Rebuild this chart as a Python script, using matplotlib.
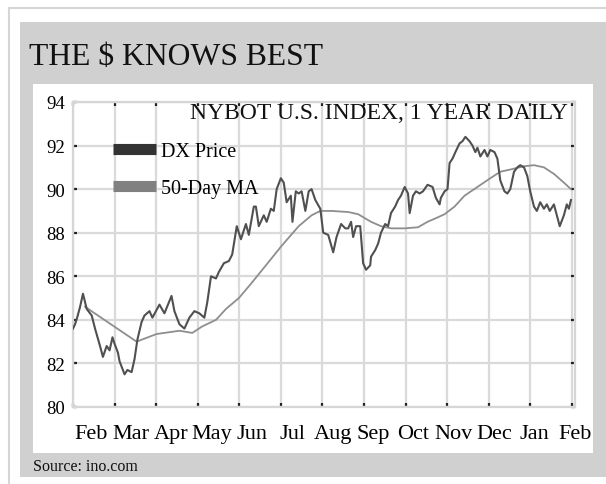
import matplotlib
matplotlib.use("Agg")
import matplotlib.pyplot as plt
from matplotlib.patches import Rectangle
from matplotlib.lines import Line2D

plt.rcParams['font.family'] = ['Liberation Serif', 'DejaVu Serif']

# month labels along the bottom axis (gridlines at each month start)
months = ['Feb', 'Mar', 'Apr', 'May', 'Jun', 'Jul', 'Aug',
          'Sep', 'Oct', 'Nov', 'Dec', 'Jan', 'Feb']
y_ticks = [80, 82, 84, 86, 88, 90, 92, 94]

# DX daily close, time in months from the first gridline
price_t = [0.00, 0.05, 0.10, 0.17, 0.24, 0.33, 0.45, 0.53, 0.65, 0.72, 0.81,
           0.88, 0.95, 1.00, 1.08, 1.12, 1.24, 1.31, 1.41, 1.48, 1.55, 1.65,
           1.72, 1.84, 1.91, 2.08, 2.20, 2.37, 2.44, 2.56, 2.68, 2.80, 2.92,
           3.04, 3.16, 3.23, 3.32, 3.44, 3.51, 3.63, 3.75, 3.83, 3.94, 4.04,
           4.16, 4.23, 4.35, 4.40, 4.47, 4.59, 4.66, 4.76, 4.83, 4.90, 5.00,
           5.07, 5.14, 5.24, 5.28, 5.36, 5.43, 5.50, 5.59, 5.67, 5.74, 5.83,
           5.95, 6.02, 6.14, 6.26, 6.34, 6.45, 6.55, 6.62, 6.69, 6.74, 6.81,
           6.91, 6.98, 7.05, 7.15, 7.17, 7.27, 7.34, 7.41, 7.51, 7.58, 7.65,
           7.75, 7.82, 7.89, 7.98, 8.06, 8.10, 8.18, 8.25, 8.34, 8.42, 8.53,
           8.65, 8.73, 8.82, 8.85, 8.94, 9.01, 9.06, 9.13, 9.20, 9.30, 9.37,
           9.44, 9.54, 9.61, 9.68, 9.73, 9.80, 9.90, 9.97, 10.04, 10.14,
           10.21, 10.28, 10.38, 10.45, 10.52, 10.61, 10.69, 10.76, 10.85,
           10.93, 11.00, 11.09, 11.16, 11.24, 11.33, 11.40, 11.47, 11.57,
           11.64, 11.71, 11.81, 11.88, 11.93, 11.98]
price_v = [83.6, 83.8, 84.1, 84.6, 85.2, 84.5, 84.2, 83.6, 82.8, 82.3, 82.8,
           82.6, 83.2, 82.9, 82.5, 82.1, 81.5, 81.7, 81.6, 82.2, 83.1, 83.9,
           84.2, 84.4, 84.1, 84.7, 84.3, 85.1, 84.4, 83.8, 83.6, 84.1, 84.4,
           84.3, 84.1, 84.8, 86.0, 85.9, 86.2, 86.6, 86.7, 87.0, 88.3, 87.7,
           88.4, 87.9, 89.2, 89.2, 88.3, 88.8, 88.5, 89.1, 89.0, 90.0, 90.5,
           90.3, 89.4, 89.7, 88.5, 89.9, 89.8, 89.9, 89.0, 89.9, 90.0, 89.5,
           89.1, 88.0, 87.9, 87.1, 87.8, 88.4, 88.2, 88.2, 88.5, 87.8, 88.3,
           88.3, 86.6, 86.3, 86.5, 86.9, 87.2, 87.5, 88.0, 88.4, 88.3, 88.9,
           89.2, 89.5, 89.7, 90.1, 89.8, 88.9, 89.7, 89.9, 89.8, 89.9, 90.2,
           90.1, 89.6, 89.3, 89.6, 89.9, 90.0, 91.2, 91.4, 91.7, 92.1, 92.2,
           92.4, 92.2, 92.0, 91.7, 91.9, 91.5, 91.8, 91.5, 91.8, 91.7,
           91.4, 90.4, 89.9, 89.8, 90.0, 90.8, 91.0, 91.1, 91.0,
           90.6, 89.9, 89.2, 89.0, 89.4, 89.1, 89.3, 89.0, 89.3,
           88.8, 88.3, 88.8, 89.3, 89.1, 89.5]

# 50-day moving average
ma_t = [0.29, 1.53, 2.01, 2.56, 2.87, 3.11, 3.44, 3.68, 3.99, 4.30, 4.64,
        5.02, 5.43, 5.74, 5.95, 6.22, 6.62, 6.86, 7.17, 7.41, 7.65, 7.98,
        8.30, 8.53, 8.77, 8.94, 9.18, 9.42, 9.73, 10.04, 10.28, 10.52, 10.85,
        11.09, 11.33, 11.57, 11.81, 11.98]
ma_v = [84.6, 83.0, 83.35, 83.5, 83.4, 83.7, 84.0, 84.5, 85.0, 85.7, 86.5,
        87.4, 88.3, 88.8, 89.0, 89.0, 88.95, 88.85, 88.5, 88.3, 88.2, 88.2,
        88.25, 88.5, 88.7, 88.85, 89.2, 89.7, 90.1, 90.5, 90.8, 90.9, 91.05,
        91.1, 91.0, 90.7, 90.3, 90.0]

W, H = 606, 485
fig = plt.figure(figsize=(W / 100, H / 100), dpi=100)
fig.patch.set_facecolor('white')


def box(x0, y0, x1, y1, **kw):
    # rectangle given in pixels from the top-left corner
    fig.add_artist(Rectangle((x0 / W, 1 - y1 / H), (x1 - x0) / W, (y1 - y0) / H,
                             transform=fig.transFigure, zorder=-10, **kw))


box(9, 9, 640, 520, fill=False, ec='#d6d6d6', lw=1.5)
box(20, 23, 640, 478, fc='#d0d0d0', ec='none')
box(33, 85, 593, 454, fc='white', ec='none')

fig.text(29 / W, 1 - 65 / H, r'THE \$ KNOWS BEST', fontsize=22.8,
         va='baseline', color='#111111')
fig.text(33 / W, 1 - 471 / H, 'Source: ino.com', fontsize=11.5,
         va='baseline', color='#111111')

ax = fig.add_axes([73 / W, 1 - 408 / H, 502 / W, 305 / H])
ax.set_zorder(5)
ax.set_facecolor('white')

ax.plot(ma_t, ma_v, color='#8e8e8e', lw=1.3, zorder=3)
ax.plot(price_t, price_v, color='#505050', lw=1.5, zorder=4)

ax.set_xlim(0, 12)
ax.set_ylim(80, 94)
ax.set_yticks(y_ticks)
ax.set_xticks(range(13))
ax.set_xticklabels([])
# month names sit a little off the gridlines
ax.set_xticks([0.43 + 0.9706 * i for i in range(len(months))], minor=True)
ax.set_xticklabels(months, minor=True)

ax.grid(True, which='major', color='#dadada', lw=1.6)
for s in ax.spines.values():
    s.set_color('#d6d6d6')
    s.set_linewidth(1.6)
ax.tick_params(which='major', direction='in', length=3, width=1.6,
               color='#222222', top=True, right=True, labelsize=13.5, pad=6)
ax.tick_params(axis='x', which='minor', length=0, labelsize=16, pad=12)

ax.text(0.986, 0.999, 'NYBOT U.S. INDEX, 1 YEAR DAILY', transform=ax.transAxes,
        ha='right', va='top', fontsize=17, color='#111111')

handles = [Line2D([], [], color='#333333', lw=8, solid_capstyle='butt'),
           Line2D([], [], color='#808080', lw=8, solid_capstyle='butt')]
ax.legend(handles, ['DX Price', '50-Day MA'], loc='upper left',
          bbox_to_anchor=(0.0797, 0.868), frameon=False, fontsize=14.5,
          handlelength=2.15, handletextpad=0.25, labelspacing=0.85,
          borderaxespad=0, borderpad=0)

fig.savefig('out.png', dpi=100)
